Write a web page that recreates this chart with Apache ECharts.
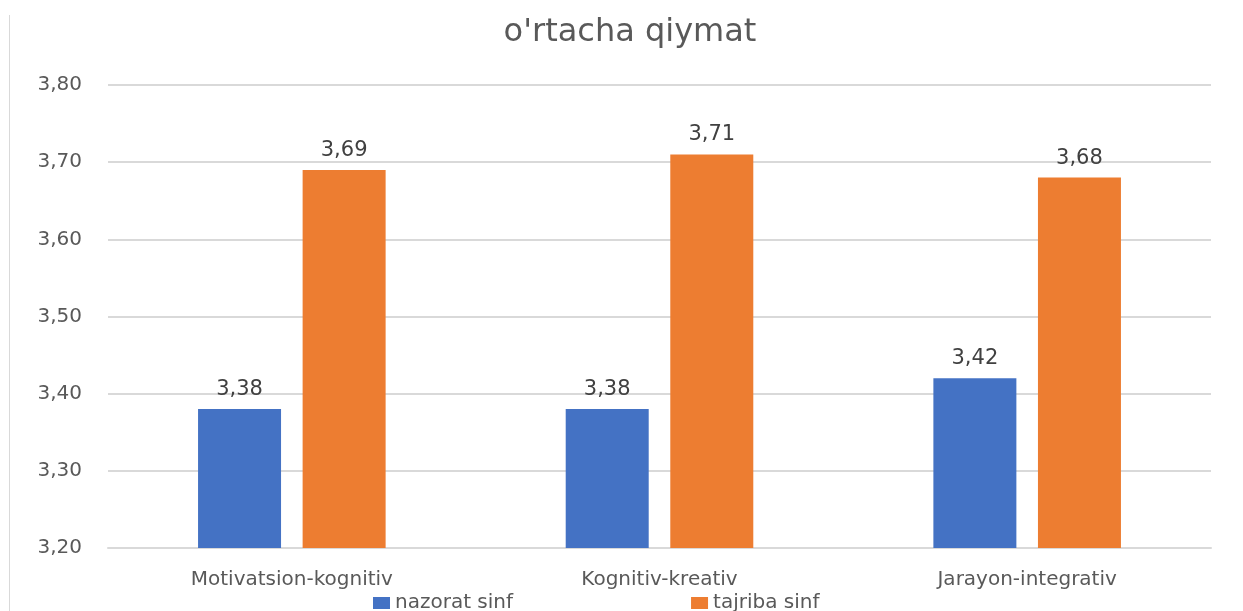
<!DOCTYPE html>
<html><head><meta charset="utf-8">
<script src="https://cdn.jsdelivr.net/npm/echarts@6/dist/echarts.min.js"></script>
<style>html,body{margin:0;padding:0;background:#fff;}#c{width:1243px;height:611px;}
#border{position:absolute;left:9px;top:15px;width:1px;height:600px;background:#d9d9d9;}</style>
</head><body><div id="border"></div><div id="c"></div>
<script>
const categories = ['Motivatsion-kognitiv', 'Kognitiv-kreativ', 'Jarayon-integrativ'];
const nazorat = [3.38, 3.38, 3.42];
const tajriba = [3.69, 3.71, 3.68];
const seriesNames = ['nazorat sinf', 'tajriba sinf'];
const titleText = "o'rtacha qiymat";
const font = 'DejaVu Sans';
const fmt = v => v.toFixed(2).replace('.', ',');
const chart = echarts.init(document.getElementById('c'));
chart.setOption({
  animation: false,
  textStyle: {fontFamily: font},
  title: {text: titleText, left: 625, textAlign: 'center', top: 12,
    textStyle: {fontFamily: font, fontSize: 32, fontWeight: 'normal', color: '#595959'}},
  grid: {left: 108, right: 32, top: 85, bottom: 63, containLabel: false},
  legend: {bottom: -7, left: 368, itemWidth: 17, itemHeight: 12, itemGap: 178, icon: 'rect',
    textStyle: {fontFamily: font, fontSize: 20, color: '#595959'},
    data: seriesNames},
  xAxis: {type: 'category', data: categories,
    axisLine: {show: true, lineStyle: {color: '#d9d9d9', width: 2}}, axisTick: {show: false},
    axisLabel: {fontFamily: font, fontSize: 20, color: '#595959', margin: 22}},
  yAxis: {type: 'value', min: 3.2, max: 3.8, interval: 0.1,
    axisLine: {show: false}, axisTick: {show: false},
    splitLine: {lineStyle: {color: '#d9d9d9', width: 2}},
    axisLabel: {fontFamily: font, fontSize: 20, color: '#595959', margin: 26, formatter: fmt}},
  series: [
    {name: seriesNames[0], type: 'bar', data: nazorat, barWidth: 83, barGap: '26%',
      itemStyle: {color: '#4472C4'},
      label: {show: true, position: 'top', distance: 9, fontFamily: font, fontSize: 21, color: '#404040', formatter: p => fmt(p.value)}},
    {name: seriesNames[1], type: 'bar', data: tajriba, barWidth: 83,
      itemStyle: {color: '#ED7D31'},
      label: {show: true, position: 'top', distance: 9, fontFamily: font, fontSize: 21, color: '#404040', formatter: p => fmt(p.value)}}
  ]
});
</script></body></html>
